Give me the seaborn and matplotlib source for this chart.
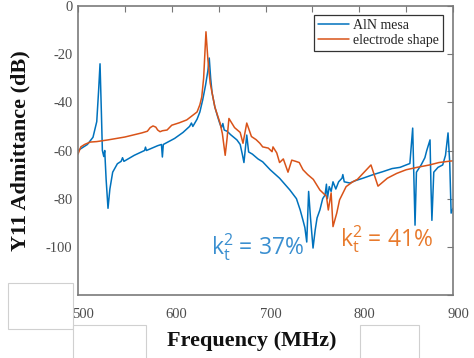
import pandas as pd
import seaborn as sns
import matplotlib.pyplot as plt
from matplotlib.patches import Rectangle
from matplotlib.transforms import ScaledTranslation

# ---------------- data (MHz, dB) ----------------
mesa_freq = [500, 510, 516, 520, 522, 523.5, 525, 526, 527.5, 528.5, 530, 532, 534, 537,
             542, 546, 547.5, 549, 560, 571, 572, 573, 585, 589, 590, 591, 603, 612,
             619, 621, 622.5, 627, 630, 633, 636, 638.5, 640, 641.5, 643, 646, 649, 651,
             653, 654.5, 656, 659, 663, 669.5, 673, 675.5, 677, 680, 682, 686, 692, 697,
             705, 715, 726, 733, 737, 740, 742, 744, 746, 748, 750.7, 753, 755, 758,
             761, 763.5, 765, 766, 768, 770, 772, 775, 778, 781.6, 782.5, 784, 790, 796,
             804, 815, 825, 835, 843.5, 850, 854, 855.5, 857, 858.5, 859.5, 861, 866,
             870, 872, 875.5, 876.5, 877.5, 879.5, 884, 889, 892, 894.7, 896.5, 898, 900]
mesa_db = [-60, -57.5, -54.5, -48, -35, -24, -45, -60, -62.5, -60, -72, -84, -76, -69,
           -65.5, -64.5, -63, -64.5, -62, -60, -58.6, -60, -58, -57.5, -62.7, -57.5, -55, -52.5,
           -50, -48.6, -50, -47, -44, -39, -33, -27, -21.6, -30, -36, -42, -46, -48.5,
           -50.5, -48.8, -51.5, -52, -53.5, -55.6, -57.5, -62, -65, -53.6, -60.6, -61.5, -63.5, -64.7,
           -68, -71.5, -76.4, -80, -84.7, -89, -92, -98, -77, -88, -100.5, -93, -88, -84.7,
           -80, -78.5, -74, -80, -75, -77, -73, -76, -73, -71.5, -70, -73, -73.5, -72.5,
           -71.5, -70, -68.8, -67.5, -67, -66, -65.4, -58, -50.7, -75, -91, -69, -66,
           -63, -60, -55.6, -75, -89, -69, -67, -66, -62, -52.7, -65, -86, -84]

shape_freq = [500, 503, 507, 513, 520, 532, 550, 568, 574, 577, 580, 583, 585, 587.5,
              590, 595, 600, 608, 616, 622, 627, 630, 632, 634, 636.5, 638.5, 641, 646,
              651.5, 654, 657, 659, 661, 667, 673, 676, 680, 685, 690, 694, 697, 703,
              707, 708, 712, 715, 719, 724, 728, 733, 736, 740, 745, 751, 758, 765,
              767, 770, 772, 776, 779, 786, 793, 798, 812.5, 820, 830, 840, 850, 861.6,
              875, 885, 897, 900]
shape_db = [-61.5, -58.5, -57.5, -56.5, -56.3, -55.6, -54.4, -52.7, -52, -50.5, -49.8, -50.3, -51.5, -52.2,
            -51.8, -51.5, -49.5, -48.5, -47.3, -45.5, -44, -41, -37.8, -30, -10.7, -22, -32, -42,
            -48.6, -53, -62, -55, -46.7, -50.5, -52.5, -57, -48.6, -54.2, -55.5, -57, -58.5, -59,
            -60.5, -58.5, -61, -65, -63.5, -69, -64, -64.6, -65, -68, -70, -72, -76.4, -79,
            -84.7, -77.6, -91.6, -86, -80.5, -75, -73, -72, -66, -74.8, -71.5, -69.5, -68, -67,
            -66, -65, -64.4, -64.3]

series_names = ['AlN mesa', 'electrode shape']
series_colors = ['#0072BD', '#D95319']

x_ticks = [500, 550, 600, 650, 700, 750, 800, 850, 900]
x_tick_labels = ['500', '', '600', '', '700', '', '800', '', '900']
y_ticks = [-120, -100, -80, -60, -40, -20, 0]
y_tick_labels = ['-120', '-100', '-80', '-60', '-40', '-20', '0']

kt2_labels = ['37%', '41%']
kt2_pos = [(641.5, -100), (779, -97)]
kt2_colors = ['#3A8FD0', '#E87A2C']

# ---------------- build table ----------------
df = pd.concat([
    pd.DataFrame({'Frequency': mesa_freq, 'Y11': mesa_db, 'Design': series_names[0]}),
    pd.DataFrame({'Frequency': shape_freq, 'Y11': shape_db, 'Design': series_names[1]}),
], ignore_index=True)

# ---------------- plot ----------------
sns.set_style('white')
plt.rcParams['font.family'] = ['Liberation Serif', 'DejaVu Serif']

fig = plt.figure(figsize=(4.74, 3.58), dpi=100)
ax = fig.add_axes([78 / 474, 1 - 295 / 358, 375 / 474, 289 / 358])

sns.lineplot(data=df, x='Frequency', y='Y11', hue='Design', hue_order=series_names,
             palette=dict(zip(series_names, series_colors)), estimator=None, sort=False,
             linewidth=1.1, ax=ax)

ax.set_xlim(500, 900)
ax.set_ylim(-120, 0)
ax.set_xticks(x_ticks)
ax.set_xticklabels(x_tick_labels)
ax.set_yticks(y_ticks)
ax.set_yticklabels(y_tick_labels)
ax.tick_params(direction='in', top=True, right=True, length=4, width=0.8,
               colors='#777777', labelcolor='#4d4d4d', labelsize=10.5)
ax.tick_params(axis='x', pad=9)
ax.tick_params(axis='y', pad=4)
for lab in ax.get_xticklabels():
    lab.set_transform(lab.get_transform() + ScaledTranslation(5 / 100, 0, fig.dpi_scale_trans))
for sp in ax.spines.values():
    sp.set_visible(True)
    sp.set_color('#7a7a7a')
    sp.set_linewidth(1.2)

ax.set_xlabel('Frequency (MHz)', fontsize=16, fontweight='bold', color='#111111')
ax.set_ylabel('Y11 Admittance (dB)', fontsize=16, fontweight='bold', color='#111111')
ax.xaxis.set_label_coords((252 - 78) / 375, -0.125)
ax.yaxis.set_label_coords(-(78 - 30) / 375, 0.5)

leg = ax.legend(loc='upper right', bbox_to_anchor=(0.973, 0.969), borderaxespad=0,
                fontsize=10, fancybox=False, framealpha=1, edgecolor='#333333',
                handlelength=2.2, handletextpad=0.3, borderpad=0.3, labelspacing=0.15)
leg.get_frame().set_linewidth(0.9)

for lab, (fx, fy), col in zip(kt2_labels, kt2_pos, kt2_colors):
    ax.text(fx, fy, r'$\mathregular{k_t^2}$ = ' + lab, color=col, fontsize=16.5,
            family=['Open Sans', 'DejaVu Sans'], ha='left', va='center')

# white patches that sit over the corners of the original screenshot
for x0, y0, w, h in [(8, 283, 65, 46), (73, 325, 73, 40), (360, 325, 59, 40)]:
    fig.patches.append(Rectangle((x0 / 474, 1 - (y0 + h) / 358), w / 474, h / 358,
                                 transform=fig.transFigure, facecolor='white',
                                 edgecolor='#d0d0d0', linewidth=0.8, zorder=10))

fig.savefig('out.png', dpi=100)
